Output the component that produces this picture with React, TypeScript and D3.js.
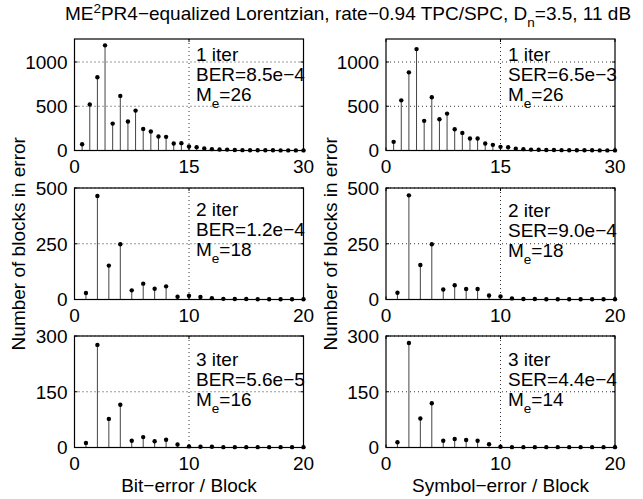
import { useEffect, useRef } from 'react';
import * as d3 from 'd3';

// blocks-in-error counts, index 0 -> 1 error
const berIter1 = [71, 519, 827, 1188, 304, 617, 327, 451, 244, 214, 158, 154, 79, 83, 45, 38, 23, 15, 11, 10, 5, 4, 3, 3, 2, 2, 1, 1, 1, 1];
const serIter1 = [98, 567, 883, 1146, 335, 601, 353, 417, 240, 199, 135, 135, 79, 64, 41, 38, 19, 15, 10, 8, 6, 5, 4, 3, 3, 2, 2, 1, 1, 1];
const berIter2 = [29, 464, 152, 248, 41, 71, 48, 59, 12, 17, 11, 6, 3, 2, 2, 1, 1, 1, 1, 1];
const serIter2 = [30, 467, 155, 248, 45, 64, 47, 47, 18, 14, 5, 2, 2, 1, 1, 1, 1, 1, 1, 1];
const berIter3 = [12, 276, 77, 115, 18, 28, 17, 21, 8, 3, 2, 2, 1, 1, 1, 1, 1, 1, 1, 1];
const serIter3 = [14, 281, 78, 119, 18, 23, 20, 18, 9, 2, 1, 1, 1, 1, 1, 1, 1, 1, 1, 1];

const xTicksRow1 = [0, 15, 30];
const xTicksRow23 = [0, 10, 20];
const yTicksRow1 = [0, 500, 1000];
const yTicksRow2 = [0, 250, 500];
const yTicksRow3 = [0, 150, 300];
const yMaxes = [1260, 500, 300];

const iterLabels = ['1 iter', '2 iter', '3 iter'];
const berLabels = ['BER=8.5e\u22124', 'BER=1.2e\u22124', 'BER=5.6e\u22125'];
const serLabels = ['SER=6.5e\u22123', 'SER=9.0e\u22124', 'SER=4.4e\u22124'];
const meBer = ['26', '18', '16'];
const meSer = ['26', '18', '14'];

const FONT = '"Liberation Sans", Arial, sans-serif';

export default function App() {
    const ref = useRef<SVGSVGElement | null>(null);

    useEffect(() => {
        if (!ref.current) return;
        const svg = d3.select(ref.current);
        svg.selectAll('*').remove();

        const W = 229;
        const H = 111.5;
        const colX = [74.5, 386];
        const rowY = [39, 188, 336];
        const fs = 19;

        const panels = [
            { vals: berIter1, xt: xTicksRow1, yt: yTicksRow1, r: 0, c: 0, lab: berLabels[0], me: meBer[0] },
            { vals: serIter1, xt: xTicksRow1, yt: yTicksRow1, r: 0, c: 1, lab: serLabels[0], me: meSer[0] },
            { vals: berIter2, xt: xTicksRow23, yt: yTicksRow2, r: 1, c: 0, lab: berLabels[1], me: meBer[1] },
            { vals: serIter2, xt: xTicksRow23, yt: yTicksRow2, r: 1, c: 1, lab: serLabels[1], me: meSer[1] },
            { vals: berIter3, xt: xTicksRow23, yt: yTicksRow3, r: 2, c: 0, lab: berLabels[2], me: meBer[2] },
            { vals: serIter3, xt: xTicksRow23, yt: yTicksRow3, r: 2, c: 1, lab: serLabels[2], me: meSer[2] },
        ];
        const textTop = [[21.7, 21.7], [27.5, 28.5], [29.5, 29.5]];

        panels.forEach(p => {
            const xMax = p.xt[p.xt.length - 1];
            const x = d3.scaleLinear().domain([0, xMax]).range([0, W]);
            const y = d3.scaleLinear().domain([0, yMaxes[p.r]]).range([H, 0]);
            const g = svg.append('g').attr('transform', `translate(${colX[p.c]},${rowY[p.r]})`);

            // dotted grid
            p.xt.slice(1, -1).forEach(t => {
                g.append('line').attr('x1', x(t)).attr('x2', x(t)).attr('y1', 0).attr('y2', H)
                    .attr('stroke', '#000').attr('stroke-width', 0.8).attr('stroke-dasharray', '1,3');
            });
            p.yt.slice(1).forEach(t => {
                g.append('line').attr('x1', 0).attr('x2', W).attr('y1', y(t)).attr('y2', y(t))
                    .attr('stroke', '#000').attr('stroke-width', 0.8).attr('stroke-dasharray', '1,3');
            });

            // stems
            const pts = p.vals.map((v, i) => ({ k: i + 1, v }));
            g.selectAll('.stem').data(pts).enter().append('line')
                .attr('x1', d => x(d.k)).attr('x2', d => x(d.k))
                .attr('y1', H).attr('y2', d => y(d.v))
                .attr('stroke', '#444').attr('stroke-width', 1);
            g.selectAll('.dot').data(pts).enter().append('circle')
                .attr('cx', d => x(d.k)).attr('cy', d => y(d.v)).attr('r', 2.2)
                .attr('fill', '#000');

            // box
            g.append('rect').attr('x', 0).attr('y', 0).attr('width', W).attr('height', H)
                .attr('fill', 'none').attr('stroke', '#000').attr('stroke-width', 1.2);

            // ticks (inside) and labels
            p.xt.forEach(t => {
                g.append('line').attr('x1', x(t)).attr('x2', x(t)).attr('y1', H).attr('y2', H - 3).attr('stroke', '#000');
                g.append('line').attr('x1', x(t)).attr('x2', x(t)).attr('y1', 0).attr('y2', 3).attr('stroke', '#000');
                g.append('text').attr('x', x(t)).attr('y', H + 22).attr('text-anchor', 'middle')
                    .attr('font-family', FONT).attr('font-size', fs).text(t);
            });
            p.yt.forEach(t => {
                g.append('line').attr('x1', 0).attr('x2', 3).attr('y1', y(t)).attr('y2', y(t)).attr('stroke', '#000');
                g.append('line').attr('x1', W).attr('x2', W - 3).attr('y1', y(t)).attr('y2', y(t)).attr('stroke', '#000');
                g.append('text').attr('x', -7).attr('y', y(t)).attr('dy', '0.36em').attr('text-anchor', 'end')
                    .attr('font-family', FONT).attr('font-size', fs).text(t);
            });

            // annotation
            const tx = p.c === 0 ? 121.5 : 122;
            const ty = textTop[p.r][p.c];
            const ann = g.append('g').attr('font-family', FONT).attr('font-size', fs);
            ann.append('text').attr('x', tx).attr('y', ty).text(iterLabels[p.r]);
            ann.append('text').attr('x', tx).attr('y', ty + 20.5).text(p.lab);
            const me = ann.append('text').attr('x', tx).attr('y', ty + 40);
            me.append('tspan').text('M');
            me.append('tspan').attr('dy', 7).attr('font-size', 13.5).text('e');
            me.append('tspan').attr('dy', -7).text('=' + p.me);
        });

        // y labels
        [0, 1].forEach(c => {
            svg.append('text')
                .attr('transform', `translate(${c === 0 ? 25 : 337},${rowY[1] + H / 2}) rotate(-90)`)
                .attr('text-anchor', 'middle').attr('font-family', FONT).attr('font-size', fs)
                .text('Number of blocks in error');
        });
        // x labels
        svg.append('text').attr('x', colX[0] + W / 2).attr('y', 492).attr('text-anchor', 'middle')
            .attr('font-family', FONT).attr('font-size', fs).text('Bit\u2212error / Block');
        svg.append('text').attr('x', colX[1] + W / 2).attr('y', 492).attr('text-anchor', 'middle')
            .attr('font-family', FONT).attr('font-size', fs).text('Symbol\u2212error / Block');

        // title
        const title = svg.append('text').attr('x', 348).attr('y', 20).attr('text-anchor', 'middle')
            .attr('font-family', FONT).attr('font-size', fs);
        title.append('tspan').text('ME');
        title.append('tspan').attr('dy', -7).attr('font-size', 13.5).text('2');
        title.append('tspan').attr('dy', 7).text('PR4\u2212equalized Lorentzian, rate\u22120.94 TPC/SPC, D');
        title.append('tspan').attr('dy', 7).attr('font-size', 13.5).text('n');
        title.append('tspan').attr('dy', -7).text('=3.5, 11 dB');
    }, []);

    return (
        <svg ref={ref} width={643} height={499}
            style={{ position: 'absolute', left: 0, top: 0, background: '#fff' }} />
    );
}
